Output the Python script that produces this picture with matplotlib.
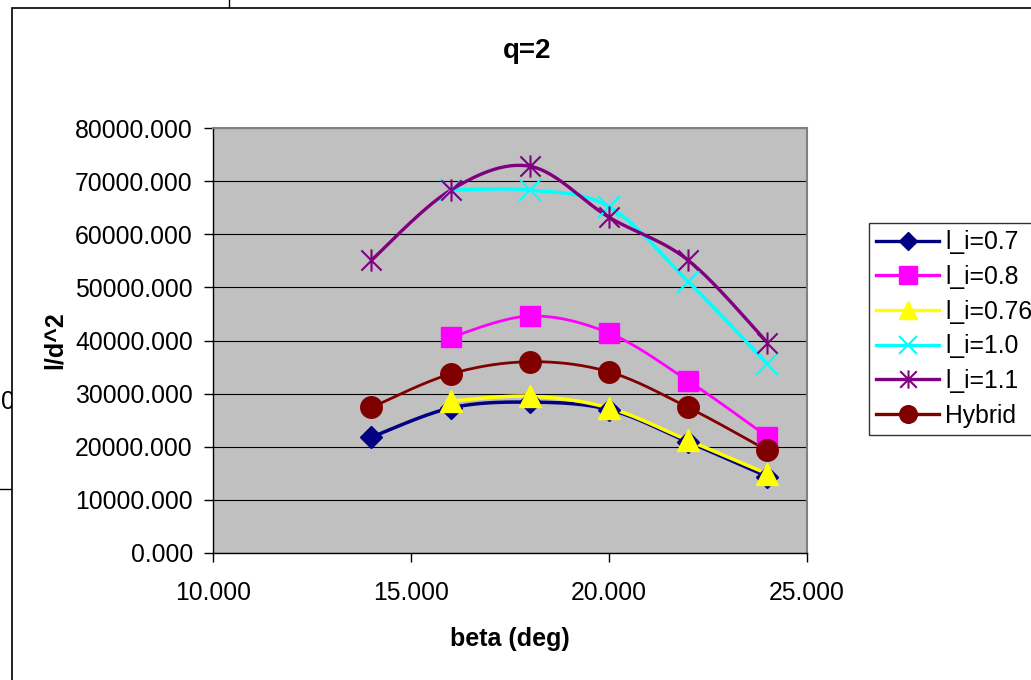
import numpy as np
import matplotlib
matplotlib.use("Agg")
import matplotlib.pyplot as plt
from matplotlib.lines import Line2D
from matplotlib.patches import Rectangle
from matplotlib.path import Path
from matplotlib.ticker import FormatStrFormatter

plt.rcParams['font.family'] = ['Liberation Sans', 'DejaVu Sans']

# ---------------- data ----------------
beta = [14, 16, 18, 20, 22, 24]
li_07 = [21800, 27300, 28400, 27000, 20900, 14400]
li_08 = [None, 40600, 44600, 41400, 32400, 21900]
li_076 = [None, 28600, 29500, 27300, 21200, 14900]
li_10 = [None, 68300, 68300, 65200, 51100, 35600]
li_11 = [55100, 68300, 72800, 63200, 55100, 39600]
hybrid = [27400, 33700, 36000, 34100, 27400, 19300]

labels = ["l_i=0.7", "l_i=0.8", "l_i=0.76", "l_i=1.0", "l_i=1.1", "Hybrid"]
title = "q=2"
xlabel = "beta (deg)"
ylabel = "l/d^2"
x_ticks = [10, 15, 20, 25]
y_ticks = [0, 10000, 20000, 30000, 40000, 50000, 60000, 70000, 80000]

# ---------------- styles ----------------
asterisk = Path([(-1, -1), (1, 1), (-1, 1), (1, -1), (0, -1.1), (0, 1.1)],
                [Path.MOVETO, Path.LINETO, Path.MOVETO, Path.LINETO, Path.MOVETO, Path.LINETO])
styles = [
    dict(color='#000080', marker='D', ms=11, lw=2.5, fill=True),
    dict(color='#FF00FF', marker='s', ms=15, lw=2.0, fill=True),
    dict(color='#FFFF00', marker='^', ms=16, lw=2.5, fill=True),
    dict(color='#00FFFF', marker='x', ms=16, lw=2.5, fill=False),
    dict(color='#800080', marker=asterisk, ms=16, lw=2.4, fill=False),
    dict(color='#800000', marker='o', ms=15.5, lw=2.0, fill=True),
]
series = [li_07, li_08, li_076, li_10, li_11, hybrid]


def excel_smooth(x, y, n=30):
    pts = np.column_stack([x, y]).astype(float)
    m = len(pts)
    out = [pts[0]]
    t = np.linspace(0, 1, n)[1:, None]
    for i in range(m - 1):
        p0 = pts[max(i - 1, 0)]
        p1 = pts[i]
        p2 = pts[i + 1]
        p3 = pts[min(i + 2, m - 1)]
        c1 = p1 + (p2 - p0) / 6.0
        c2 = p2 - (p3 - p1) / 6.0
        seg = (1 - t) ** 3 * p1 + 3 * (1 - t) ** 2 * t * c1 + 3 * (1 - t) * t ** 2 * c2 + t ** 3 * p2
        out.extend(seg)
    out = np.array(out)
    return out[:, 0], out[:, 1]


W, H = 1031, 680
fig = plt.figure(figsize=(W / 100, H / 100), dpi=100)
fig.patch.set_facecolor('white')

# background artifacts (behind the chart frame)
fig.text(0.5 / W, 1 - 402 / H, "0", ha='left', va='center', fontsize=17.8, zorder=-10)
fig.add_artist(Line2D([0, 12 / W], [1 - 489 / H] * 2, transform=fig.transFigure,
                      color='black', lw=1.0, zorder=-10))
fig.add_artist(Line2D([229 / W] * 2, [1, 1 - 8 / H], transform=fig.transFigure,
                      color='black', lw=1.0, zorder=-10))
# chart area frame
fig.add_artist(Rectangle((12 / W, -0.1), 2.0, (1 - 8 / H) + 0.1, transform=fig.transFigure,
                         facecolor='white', edgecolor='black', lw=1.2, zorder=-5))

ax = fig.add_axes([213 / W, 1 - 553 / H, 594 / W, 425 / H])
ax.set_facecolor('#C0C0C0')

handles = []
for vals, st, lab in zip(series, styles, labels):
    xs = [b for b, v in zip(beta, vals) if v is not None]
    ys = [v for v in vals if v is not None]
    sx, sy = excel_smooth(xs, ys)
    ax.plot(sx, sy, color=st['color'], lw=st['lw'], solid_capstyle='round', zorder=3)
    mfc = st['color'] if st['fill'] else 'none'
    ax.plot(xs, ys, ls='none', marker=st['marker'], ms=st['ms'], mfc=mfc,
            mec=st['color'], mew=1.5 if not st['fill'] else 1.0, zorder=4)
    handles.append(Line2D([], [], color=st['color'], lw=2.4, marker=st['marker'],
                          ms=st['ms'] * 0.82, mfc=mfc, mec=st['color'],
                          mew=1.5 if not st['fill'] else 1.0))

ax.set_xlim(x_ticks[0], x_ticks[-1])
ax.set_ylim(y_ticks[0], y_ticks[-1])
ax.set_xticks(x_ticks)
ax.set_yticks(y_ticks)
ax.xaxis.set_major_formatter(FormatStrFormatter('%.3f'))
ax.yaxis.set_major_formatter(FormatStrFormatter('%.3f'))
ax.yaxis.grid(True, color='black', lw=0.8, zorder=1)
ax.set_axisbelow(True)

ax.tick_params(axis='both', direction='out', length=6.5, width=1, color='black',
               labelsize=17.8, labelcolor='black')
ax.tick_params(axis='y', pad=8)
ax.tick_params(axis='x', pad=13.5)

for side in ['top', 'right']:
    ax.spines[side].set_color('#808080')
    ax.spines[side].set_linewidth(1.5)
for side in ['left', 'bottom']:
    ax.spines[side].set_color('black')
    ax.spines[side].set_linewidth(1.0)

ax.set_xlabel(xlabel, fontsize=18, fontweight='bold')
ax.xaxis.set_label_coords(0.5, -74 / 425)
ax.xaxis.label.set_va('top')
ax.set_ylabel(ylabel, fontsize=18, fontweight='bold')
ax.yaxis.set_label_coords((67 - 213) / 594, 0.5)

fig.text(527 / W, 1 - 58 / H, title, ha='center', va='baseline', fontsize=20, fontweight='bold')

leg = fig.legend(handles, labels, loc='upper left', bbox_to_anchor=(869 / W, 1 - 223 / H),
                 borderaxespad=0, fontsize=17.8, frameon=True, fancybox=False, shadow=False,
                 handlelength=2.55, handletextpad=0.24, labelspacing=0.43, borderpad=0.3)
leg.get_frame().set_edgecolor('black')
leg.get_frame().set_linewidth(1.0)
leg.get_frame().set_facecolor('white')

fig.savefig('out.png', dpi=100)
